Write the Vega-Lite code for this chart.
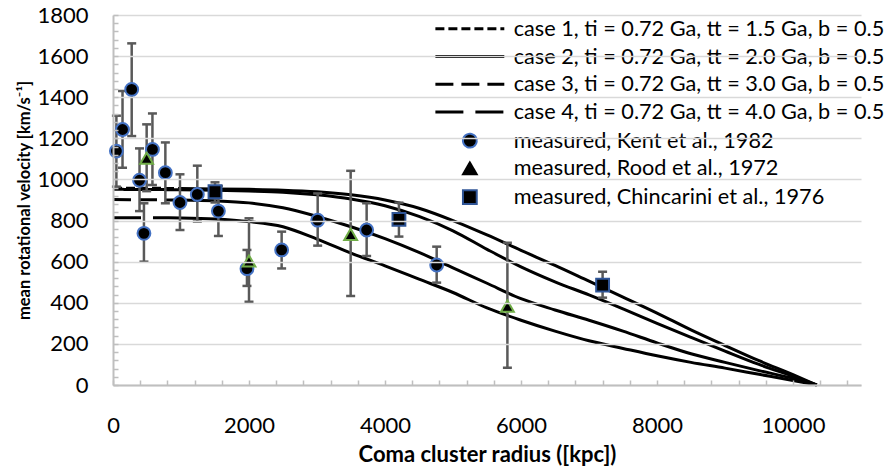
{
  "$schema": "https://vega.github.io/schema/vega-lite/v6.json",
  "width": 748,
  "height": 370,
  "autosize": {"type": "none"},
  "padding": {"left": 113, "top": 15, "right": 25, "bottom": 82},
  "background": "white",
  "config": {
    "view": {"stroke": null},
    "font": "Lato",
    "axis": {"labelFont": "Lato", "titleFont": "Lato", "labelColor": "#000000", "titleColor": "#000000", "labelFontSize": 22, "titleFontWeight": "bold"},
    "axisX": {"labelPadding": 35, "titleFontSize": 22, "titlePadding": 8},
    "axisY": {"labelPadding": 30, "titleFontSize": 16.5, "titlePadding": 4},
    "legend": {
      "orient": "none",
      "legendX": 346,
      "legendY": 3,
      "title": null,
      "padding": 0,
      "symbolSize": 190,
      "symbolStrokeWidth": 3,
      "symbolStrokeColor": "#000000",
      "labelFont": "Lato",
      "labelFontSize": 21.7,
      "labelColor": "#000000",
      "labelOffset": 33,
      "labelLimit": 700,
      "rowPadding": 4.7
    }
  },
  "datasets": {
    "curves": [
      {"series": "case 1, ti = 0.72 Ga, tt = 1.5 Ga, b = 0.5", "r": 0, "v": 958},
      {"series": "case 1, ti = 0.72 Ga, tt = 1.5 Ga, b = 0.5", "r": 500, "v": 957},
      {"series": "case 1, ti = 0.72 Ga, tt = 1.5 Ga, b = 0.5", "r": 1000, "v": 956},
      {"series": "case 1, ti = 0.72 Ga, tt = 1.5 Ga, b = 0.5", "r": 1500, "v": 954},
      {"series": "case 1, ti = 0.72 Ga, tt = 1.5 Ga, b = 0.5", "r": 2000, "v": 952},
      {"series": "case 1, ti = 0.72 Ga, tt = 1.5 Ga, b = 0.5", "r": 2500, "v": 948},
      {"series": "case 1, ti = 0.72 Ga, tt = 1.5 Ga, b = 0.5", "r": 3000, "v": 940},
      {"series": "case 1, ti = 0.72 Ga, tt = 1.5 Ga, b = 0.5", "r": 3500, "v": 925},
      {"series": "case 1, ti = 0.72 Ga, tt = 1.5 Ga, b = 0.5", "r": 4000, "v": 900},
      {"series": "case 1, ti = 0.72 Ga, tt = 1.5 Ga, b = 0.5", "r": 4500, "v": 860},
      {"series": "case 1, ti = 0.72 Ga, tt = 1.5 Ga, b = 0.5", "r": 5000, "v": 800},
      {"series": "case 1, ti = 0.72 Ga, tt = 1.5 Ga, b = 0.5", "r": 5500, "v": 730},
      {"series": "case 1, ti = 0.72 Ga, tt = 1.5 Ga, b = 0.5", "r": 6000, "v": 655},
      {"series": "case 1, ti = 0.72 Ga, tt = 1.5 Ga, b = 0.5", "r": 6500, "v": 582},
      {"series": "case 1, ti = 0.72 Ga, tt = 1.5 Ga, b = 0.5", "r": 7000, "v": 505},
      {"series": "case 1, ti = 0.72 Ga, tt = 1.5 Ga, b = 0.5", "r": 7500, "v": 428},
      {"series": "case 1, ti = 0.72 Ga, tt = 1.5 Ga, b = 0.5", "r": 8000, "v": 350},
      {"series": "case 1, ti = 0.72 Ga, tt = 1.5 Ga, b = 0.5", "r": 8500, "v": 268},
      {"series": "case 1, ti = 0.72 Ga, tt = 1.5 Ga, b = 0.5", "r": 9000, "v": 192},
      {"series": "case 1, ti = 0.72 Ga, tt = 1.5 Ga, b = 0.5", "r": 9500, "v": 118},
      {"series": "case 1, ti = 0.72 Ga, tt = 1.5 Ga, b = 0.5", "r": 10000, "v": 50},
      {"series": "case 1, ti = 0.72 Ga, tt = 1.5 Ga, b = 0.5", "r": 10350, "v": 0},
      {"series": "case 2, ti = 0.72 Ga, tt = 2.0 Ga, b = 0.5", "r": 0, "v": 952},
      {"series": "case 2, ti = 0.72 Ga, tt = 2.0 Ga, b = 0.5", "r": 500, "v": 951},
      {"series": "case 2, ti = 0.72 Ga, tt = 2.0 Ga, b = 0.5", "r": 1000, "v": 950},
      {"series": "case 2, ti = 0.72 Ga, tt = 2.0 Ga, b = 0.5", "r": 1500, "v": 948},
      {"series": "case 2, ti = 0.72 Ga, tt = 2.0 Ga, b = 0.5", "r": 2000, "v": 944},
      {"series": "case 2, ti = 0.72 Ga, tt = 2.0 Ga, b = 0.5", "r": 2500, "v": 938},
      {"series": "case 2, ti = 0.72 Ga, tt = 2.0 Ga, b = 0.5", "r": 3000, "v": 925},
      {"series": "case 2, ti = 0.72 Ga, tt = 2.0 Ga, b = 0.5", "r": 3500, "v": 905},
      {"series": "case 2, ti = 0.72 Ga, tt = 2.0 Ga, b = 0.5", "r": 4000, "v": 872},
      {"series": "case 2, ti = 0.72 Ga, tt = 2.0 Ga, b = 0.5", "r": 4500, "v": 820},
      {"series": "case 2, ti = 0.72 Ga, tt = 2.0 Ga, b = 0.5", "r": 5000, "v": 750},
      {"series": "case 2, ti = 0.72 Ga, tt = 2.0 Ga, b = 0.5", "r": 5500, "v": 660},
      {"series": "case 2, ti = 0.72 Ga, tt = 2.0 Ga, b = 0.5", "r": 6000, "v": 575},
      {"series": "case 2, ti = 0.72 Ga, tt = 2.0 Ga, b = 0.5", "r": 6500, "v": 502},
      {"series": "case 2, ti = 0.72 Ga, tt = 2.0 Ga, b = 0.5", "r": 7000, "v": 438},
      {"series": "case 2, ti = 0.72 Ga, tt = 2.0 Ga, b = 0.5", "r": 7500, "v": 370},
      {"series": "case 2, ti = 0.72 Ga, tt = 2.0 Ga, b = 0.5", "r": 8000, "v": 300},
      {"series": "case 2, ti = 0.72 Ga, tt = 2.0 Ga, b = 0.5", "r": 8500, "v": 232},
      {"series": "case 2, ti = 0.72 Ga, tt = 2.0 Ga, b = 0.5", "r": 9000, "v": 165},
      {"series": "case 2, ti = 0.72 Ga, tt = 2.0 Ga, b = 0.5", "r": 9500, "v": 100},
      {"series": "case 2, ti = 0.72 Ga, tt = 2.0 Ga, b = 0.5", "r": 10000, "v": 42},
      {"series": "case 2, ti = 0.72 Ga, tt = 2.0 Ga, b = 0.5", "r": 10350, "v": 0},
      {"series": "case 3, ti = 0.72 Ga, tt = 3.0 Ga, b = 0.5", "r": 0, "v": 902},
      {"series": "case 3, ti = 0.72 Ga, tt = 3.0 Ga, b = 0.5", "r": 500, "v": 901},
      {"series": "case 3, ti = 0.72 Ga, tt = 3.0 Ga, b = 0.5", "r": 1000, "v": 900},
      {"series": "case 3, ti = 0.72 Ga, tt = 3.0 Ga, b = 0.5", "r": 1500, "v": 896},
      {"series": "case 3, ti = 0.72 Ga, tt = 3.0 Ga, b = 0.5", "r": 2000, "v": 886},
      {"series": "case 3, ti = 0.72 Ga, tt = 3.0 Ga, b = 0.5", "r": 2500, "v": 862},
      {"series": "case 3, ti = 0.72 Ga, tt = 3.0 Ga, b = 0.5", "r": 3000, "v": 820},
      {"series": "case 3, ti = 0.72 Ga, tt = 3.0 Ga, b = 0.5", "r": 3500, "v": 770},
      {"series": "case 3, ti = 0.72 Ga, tt = 3.0 Ga, b = 0.5", "r": 4000, "v": 712},
      {"series": "case 3, ti = 0.72 Ga, tt = 3.0 Ga, b = 0.5", "r": 4500, "v": 645},
      {"series": "case 3, ti = 0.72 Ga, tt = 3.0 Ga, b = 0.5", "r": 5000, "v": 570},
      {"series": "case 3, ti = 0.72 Ga, tt = 3.0 Ga, b = 0.5", "r": 5500, "v": 495},
      {"series": "case 3, ti = 0.72 Ga, tt = 3.0 Ga, b = 0.5", "r": 6000, "v": 420},
      {"series": "case 3, ti = 0.72 Ga, tt = 3.0 Ga, b = 0.5", "r": 6500, "v": 365},
      {"series": "case 3, ti = 0.72 Ga, tt = 3.0 Ga, b = 0.5", "r": 7000, "v": 315},
      {"series": "case 3, ti = 0.72 Ga, tt = 3.0 Ga, b = 0.5", "r": 7500, "v": 262},
      {"series": "case 3, ti = 0.72 Ga, tt = 3.0 Ga, b = 0.5", "r": 8000, "v": 205},
      {"series": "case 3, ti = 0.72 Ga, tt = 3.0 Ga, b = 0.5", "r": 8500, "v": 152},
      {"series": "case 3, ti = 0.72 Ga, tt = 3.0 Ga, b = 0.5", "r": 9000, "v": 110},
      {"series": "case 3, ti = 0.72 Ga, tt = 3.0 Ga, b = 0.5", "r": 9500, "v": 70},
      {"series": "case 3, ti = 0.72 Ga, tt = 3.0 Ga, b = 0.5", "r": 10000, "v": 32},
      {"series": "case 3, ti = 0.72 Ga, tt = 3.0 Ga, b = 0.5", "r": 10350, "v": 0},
      {"series": "case 4, ti = 0.72 Ga, tt = 4.0 Ga, b = 0.5", "r": 0, "v": 814},
      {"series": "case 4, ti = 0.72 Ga, tt = 4.0 Ga, b = 0.5", "r": 500, "v": 814},
      {"series": "case 4, ti = 0.72 Ga, tt = 4.0 Ga, b = 0.5", "r": 1000, "v": 813},
      {"series": "case 4, ti = 0.72 Ga, tt = 4.0 Ga, b = 0.5", "r": 1500, "v": 808},
      {"series": "case 4, ti = 0.72 Ga, tt = 4.0 Ga, b = 0.5", "r": 2000, "v": 795},
      {"series": "case 4, ti = 0.72 Ga, tt = 4.0 Ga, b = 0.5", "r": 2500, "v": 770},
      {"series": "case 4, ti = 0.72 Ga, tt = 4.0 Ga, b = 0.5", "r": 3000, "v": 710},
      {"series": "case 4, ti = 0.72 Ga, tt = 4.0 Ga, b = 0.5", "r": 3500, "v": 642},
      {"series": "case 4, ti = 0.72 Ga, tt = 4.0 Ga, b = 0.5", "r": 4000, "v": 580},
      {"series": "case 4, ti = 0.72 Ga, tt = 4.0 Ga, b = 0.5", "r": 4500, "v": 515},
      {"series": "case 4, ti = 0.72 Ga, tt = 4.0 Ga, b = 0.5", "r": 5000, "v": 450},
      {"series": "case 4, ti = 0.72 Ga, tt = 4.0 Ga, b = 0.5", "r": 5500, "v": 375},
      {"series": "case 4, ti = 0.72 Ga, tt = 4.0 Ga, b = 0.5", "r": 6000, "v": 315},
      {"series": "case 4, ti = 0.72 Ga, tt = 4.0 Ga, b = 0.5", "r": 6500, "v": 262},
      {"series": "case 4, ti = 0.72 Ga, tt = 4.0 Ga, b = 0.5", "r": 7000, "v": 215},
      {"series": "case 4, ti = 0.72 Ga, tt = 4.0 Ga, b = 0.5", "r": 7500, "v": 178},
      {"series": "case 4, ti = 0.72 Ga, tt = 4.0 Ga, b = 0.5", "r": 8000, "v": 142},
      {"series": "case 4, ti = 0.72 Ga, tt = 4.0 Ga, b = 0.5", "r": 8500, "v": 110},
      {"series": "case 4, ti = 0.72 Ga, tt = 4.0 Ga, b = 0.5", "r": 9000, "v": 82},
      {"series": "case 4, ti = 0.72 Ga, tt = 4.0 Ga, b = 0.5", "r": 9500, "v": 52},
      {"series": "case 4, ti = 0.72 Ga, tt = 4.0 Ga, b = 0.5", "r": 10000, "v": 22},
      {"series": "case 4, ti = 0.72 Ga, tt = 4.0 Ga, b = 0.5", "r": 10350, "v": 0}
    ],
    "meas": [
      {"series": "measured, Kent et al., 1982", "r": 50, "v": 1138, "lo": 965, "hi": 1310},
      {"series": "measured, Kent et al., 1982", "r": 140, "v": 1243, "lo": 1057, "hi": 1430},
      {"series": "measured, Kent et al., 1982", "r": 275, "v": 1438, "lo": 1211, "hi": 1662},
      {"series": "measured, Kent et al., 1982", "r": 390, "v": 996, "lo": 846, "hi": 1151},
      {"series": "measured, Kent et al., 1982", "r": 455, "v": 738, "lo": 600, "hi": 884},
      {"series": "measured, Kent et al., 1982", "r": 580, "v": 1146, "lo": 973, "hi": 1321},
      {"series": "measured, Kent et al., 1982", "r": 770, "v": 1033, "lo": 884, "hi": 1180},
      {"series": "measured, Kent et al., 1982", "r": 985, "v": 888, "lo": 754, "hi": 1025},
      {"series": "measured, Kent et al., 1982", "r": 1240, "v": 927, "lo": 795, "hi": 1067},
      {"series": "measured, Kent et al., 1982", "r": 1550, "v": 846, "lo": 725, "hi": 968},
      {"series": "measured, Kent et al., 1982", "r": 1970, "v": 566, "lo": 482, "hi": 657},
      {"series": "measured, Kent et al., 1982", "r": 2480, "v": 657, "lo": 567, "hi": 746},
      {"series": "measured, Kent et al., 1982", "r": 3010, "v": 802, "lo": 678, "hi": 932},
      {"series": "measured, Kent et al., 1982", "r": 3730, "v": 754, "lo": 627, "hi": 884},
      {"series": "measured, Kent et al., 1982", "r": 4760, "v": 584, "lo": 498, "hi": 673},
      {"series": "measured, Rood et al., 1972", "r": 495, "v": 1103, "lo": 943, "hi": 1268},
      {"series": "measured, Rood et al., 1972", "r": 2000, "v": 603, "lo": 405, "hi": 811},
      {"series": "measured, Rood et al., 1972", "r": 3495, "v": 733, "lo": 433, "hi": 1042},
      {"series": "measured, Rood et al., 1972", "r": 5800, "v": 384, "lo": 84, "hi": 692},
      {"series": "measured, Chincarini et al., 1976", "r": 1500, "v": 940, "lo": 888, "hi": 986},
      {"series": "measured, Chincarini et al., 1976", "r": 4205, "v": 806, "lo": 722, "hi": 887},
      {"series": "measured, Chincarini et al., 1976", "r": 7200, "v": 486, "lo": 425, "hi": 551}
    ]
  },
  "encoding": {
    "x": {
      "field": "r", "type": "quantitative",
      "scale": {"domain": [0, 11000], "nice": false},
      "title": "Coma cluster radius ([kpc])",
      "axis": {
        "values": [0,400,800,1200,1600,2000,2400,2800,3200,3600,4000,4400,4800,5200,5600,6000,6400,6800,7200,7600,8000,8400,8800,9200,9600,10000,10400,10800],
        "format": "d",
        "labelExpr": "datum.value % 2000 === 0 ? datum.label : ''",
        "labelOverlap": false,
        "labelFlush": false,
        "grid": false,
        "tickSize": -5,
        "tickColor": "#BFBFBF",
        "tickWidth": 1.5,
        "domainColor": "#BFBFBF",
        "domainWidth": 2,
        "zindex": 1
      }
    },
    "y": {
      "field": "v", "type": "quantitative",
      "scale": {"domain": [0, 1800], "nice": false},
      "title": "mean rotational velocity [km/s⁻¹]",
      "axis": {
        "values": [0,40,80,120,160,200,240,280,320,360,400,440,480,520,560,600,640,680,720,760,800,840,880,920,960,1000,1040,1080,1120,1160,1200,1240,1280,1320,1360,1400,1440,1480,1520,1560,1600,1640,1680,1720,1760,1800],
        "format": "d",
        "labelExpr": "datum.value % 200 === 0 ? datum.label : ''",
        "labelOverlap": false,
        "labelFlush": false,
        "grid": true,
        "gridColor": {"condition": {"test": "datum.value % 200 === 0", "value": "#D9D9D9"}, "value": "rgba(255,255,255,0)"},
        "gridWidth": 1.5,
        "tickSize": -5,
        "tickColor": "#BFBFBF",
        "tickWidth": 1.5,
        "domainColor": "#BFBFBF",
        "domainWidth": 2,
        "zindex": 1
      }
    }
  },
  "layer": [
    {
      "data": {"name": "curves"},
      "transform": [{"filter": "datum.r >= 1000"}],
      "mark": {"type": "line", "color": "#000000", "strokeWidth": 3, "interpolate": "monotone"},
      "encoding": {
        "detail": {"field": "series", "type": "nominal"}
      }
    },
    {
      "data": {"name": "curves"},
      "transform": [{"filter": "datum.r <= 1000"}],
      "mark": {"type": "line", "color": "#000000", "strokeWidth": 3, "interpolate": "monotone"},
      "encoding": {
        "strokeDash": {
          "field": "series", "type": "nominal",
          "scale": {
            "domain": ["case 1, ti = 0.72 Ga, tt = 1.5 Ga, b = 0.5", "case 2, ti = 0.72 Ga, tt = 2.0 Ga, b = 0.5", "case 3, ti = 0.72 Ga, tt = 3.0 Ga, b = 0.5", "case 4, ti = 0.72 Ga, tt = 4.0 Ga, b = 0.5", "measured, Kent et al., 1982", "measured, Rood et al., 1972", "measured, Chincarini et al., 1976"],
            "range": [[9, 4], [1, 0], [18, 8], [28, 12], [1, 0], [1, 0], [1, 0]]
          },
          "legend": {
            "encode": {
              "symbols": {
                "update": {
                  "shape": {"signal": "test(/Kent/, datum.value) ? 'circle' : test(/Rood/, datum.value) ? 'triangle-up' : test(/Chincarini/, datum.value) ? 'square' : 'M-5,0H5'"},
                  "fill": {"signal": "test(/^measured/, datum.value) ? '#000000' : 'transparent'"},
                  "stroke": {"signal": "test(/Kent/, datum.value) ? '#4472C4' : test(/Chincarini/, datum.value) ? '#2F5597' : '#000000'"},
                  "strokeWidth": {"signal": "test(/^measured/, datum.value) ? 2 : 3"},
                  "opacity": {"value": 1}
                }
              }
            }
          }
        }
      }
    },
    {
      "data": {"name": "meas"},
      "mark": {"type": "rule", "color": "#595959", "strokeWidth": 2.5},
      "encoding": {
        "y": {"field": "lo", "type": "quantitative"},
        "y2": {"field": "hi"}
      }
    },
    {
      "data": {"name": "meas"},
      "mark": {"type": "tick", "orient": "horizontal", "color": "#595959", "size": 9, "thickness": 2.5, "opacity": 1},
      "encoding": {
        "y": {"field": "lo", "type": "quantitative"}
      }
    },
    {
      "data": {"name": "meas"},
      "mark": {"type": "tick", "orient": "horizontal", "color": "#595959", "size": 9, "thickness": 2.5, "opacity": 1},
      "encoding": {
        "y": {"field": "hi", "type": "quantitative"}
      }
    },
    {
      "data": {"name": "meas"},
      "mark": {"type": "point", "filled": true, "fill": "#000000", "size": 165, "strokeWidth": 2, "opacity": 1},
      "encoding": {
        "shape": {
          "field": "series", "type": "nominal",
          "scale": {"domain": ["measured, Kent et al., 1982", "measured, Rood et al., 1972", "measured, Chincarini et al., 1976"], "range": ["circle", "triangle-up", "square"]},
          "legend": null
        },
        "stroke": {
          "field": "series", "type": "nominal",
          "scale": {"domain": ["measured, Kent et al., 1982", "measured, Rood et al., 1972", "measured, Chincarini et al., 1976"], "range": ["#4472C4", "#70AD47", "#2F5597"]},
          "legend": null
        }
      }
    }
  ]
}
